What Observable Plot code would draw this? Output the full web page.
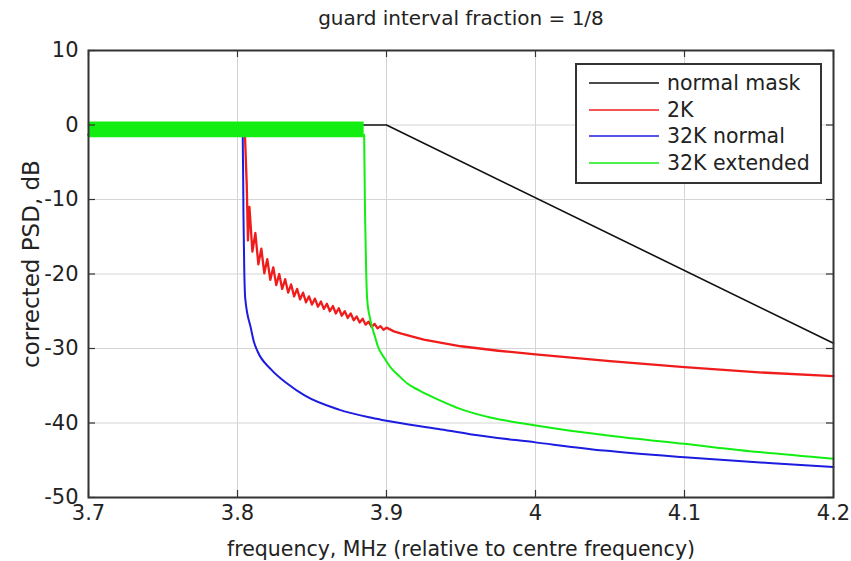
<!DOCTYPE html>
<html><head><meta charset="utf-8">
<script src="https://cdn.jsdelivr.net/npm/d3@7"></script>
<script src="https://cdn.jsdelivr.net/npm/@observablehq/plot@0.6"></script>
<style>
body{margin:0;background:#fff;}
#wrap{position:relative;width:851px;height:561px;font-family:"DejaVu Sans",sans-serif;}
#legend{position:absolute;left:575px;top:63px;width:243px;height:117px;border:2px solid #333;background:#fff;}
.row{position:absolute;left:0;height:26px;display:flex;align-items:center;font-size:20.5px;color:#222;white-space:nowrap;}
.row svg{margin-left:12px;margin-right:8px;}
</style>
</head><body><div id="wrap"></div>
<script>
// ---- data ----
const titleText = "guard interval fraction = 1/8";
const xLabel = "frequency, MHz (relative to centre frequency)";
const yLabel = "corrected PSD, dB";
const xTicks = [3.7, 3.8, 3.9, 4.0, 4.1, 4.2];
const xTickLabels = ["3.7", "3.8", "3.9", "4", "4.1", "4.2"];
const yTicks = [-50, -40, -30, -20, -10, 0, 10];
const yTickLabels = ["-50", "-40", "-30", "-20", "-10", "0", "10"];
const seriesNames = ["normal mask", "2K", "32K normal", "32K extended"];
const seriesColors = ["#111111", "#f01c1c", "#1c1ce0", "#12ee12"];

// normal mask
const maskFreq = [3.7, 3.9, 4.2];
const maskPSD  = [0, 0, -29.3];

// 2K (in-band ripple hidden under green band, then steep edge with decaying sidelobe ripple)
const k2Freq = [3.7, 3.805, 3.8062, 3.807,
  3.808, 3.810, 3.812, 3.814, 3.816, 3.818, 3.820, 3.822, 3.824, 3.826, 3.828, 3.830,
  3.832, 3.834, 3.836, 3.838, 3.840, 3.842, 3.844, 3.846, 3.848, 3.850, 3.852, 3.854,
  3.856, 3.858, 3.860, 3.862, 3.864, 3.866, 3.868, 3.870, 3.872, 3.874, 3.876, 3.878,
  3.880, 3.882, 3.884, 3.886, 3.888, 3.890, 3.892, 3.894, 3.896, 3.898, 3.900,
  3.905, 3.910, 3.925, 3.950, 3.975, 4.0, 4.05, 4.1, 4.15, 4.2];
const k2PSD = [-1.3, -1.3, -8, -15.5,
  -11.0, -17.0, -14.5, -18.7, -16.6, -19.9, -18.0, -20.8, -19.1, -21.5, -20.0, -22.0,
  -20.7, -22.5, -21.4, -23.0, -22.0, -23.4, -22.5, -23.8, -23.0, -24.1, -23.3, -24.4,
  -23.7, -24.7, -24.0, -25.0, -24.3, -25.3, -24.6, -25.6, -25.0, -25.9, -25.3, -26.2,
  -25.7, -26.5, -26.0, -26.8, -26.4, -27.1, -26.7, -27.3, -27.0, -27.5, -27.2,
  -27.7, -28.0, -28.8, -29.7, -30.3, -30.8, -31.7, -32.5, -33.2, -33.7];

// 32K normal
const k32nFreq = [3.7, 3.8035, 3.804, 3.8045, 3.8052, 3.809, 3.811, 3.8135, 3.8225, 3.834, 3.845,
  3.868, 3.890, 3.900, 3.935, 3.956, 4.0, 4.046, 4.1, 4.159, 4.2];
const k32nPSD = [-1.3, -1.3, -12, -19, -23.3, -27.3, -29.1, -30.4, -32.8, -34.8, -36.3,
  -38.2, -39.3, -39.7, -40.8, -41.5, -42.6, -43.7, -44.6, -45.4, -45.9];

// 32K extended: dense in-band ripple (drawn as its envelope band) and roll-off
const k32eBandFreq = [3.7, 3.885];
const k32eBandTop = [0.4, 0.4];
const k32eBandBottom = [-1.7, -1.7];
const k32eFreq = [3.885, 3.8856, 3.8864, 3.8870, 3.8892, 3.8924, 3.894, 3.899, 3.903, 3.908, 3.914,
  3.9216, 3.935, 3.948, 3.9705, 3.993, 4.0155, 4.05, 4.1, 4.15, 4.2];
const k32ePSD = [-1.3, -12, -20, -23.3, -26.2, -28.5, -29.6, -31.4, -32.6, -33.6, -34.7,
  -35.6, -36.9, -38.0, -39.3, -40.1, -40.8, -41.7, -42.8, -43.9, -44.8];

// ---- build tables ----
const toRows = (fx, fy) => fx.map((f, i) => ({f, v: fy[i]}));
const mask = toRows(maskFreq, maskPSD);
const k2 = toRows(k2Freq, k2PSD);
const k32n = toRows(k32nFreq, k32nPSD);
const k32e = toRows(k32eFreq, k32ePSD);
const band = k32eBandFreq.map((f, i) => ({f, top: k32eBandTop[i], bottom: k32eBandBottom[i]}));

const W = 851, H = 561, mL = 88, mR = 18, mT = 50, mB = 64;
const innerW = W - mL - mR, innerH = H - mT - mB;
const tickLen = 7;
const axisColor = "#333";

const chart = Plot.plot({
  width: W, height: H,
  marginLeft: mL, marginRight: mR, marginTop: mT, marginBottom: mB,
  style: {fontFamily: "DejaVu Sans, sans-serif", fontSize: "21px", color: "#222", background: "#fff", overflow: "visible"},
  x: {domain: [3.7, 4.2]},
  y: {domain: [-50, 10]},
  marks: [
    Plot.gridX(xTicks, {stroke: "#d4d4d4", strokeOpacity: 1, strokeWidth: 1}),
    Plot.gridY(yTicks, {stroke: "#d4d4d4", strokeOpacity: 1, strokeWidth: 1}),
    Plot.line(mask, {x: "f", y: "v", stroke: seriesColors[0], strokeWidth: 1.6}),
    Plot.line(k2, {x: "f", y: "v", stroke: seriesColors[1], strokeWidth: 2.3}),
    Plot.line(k32n, {x: "f", y: "v", stroke: seriesColors[2], strokeWidth: 2, curve: "monotone-x"}),
    Plot.areaY(band, {x: "f", y1: "bottom", y2: "top", fill: seriesColors[3]}),
    Plot.line(k32e, {x: "f", y: "v", stroke: seriesColors[3], strokeWidth: 2, curve: "monotone-x"}),
    // inward tick marks on all four sides
    Plot.ruleX(xTicks, {insetTop: innerH - tickLen, stroke: axisColor, strokeWidth: 1.2}),
    Plot.ruleX(xTicks, {insetBottom: innerH - tickLen, stroke: axisColor, strokeWidth: 1.2}),
    Plot.ruleY(yTicks, {insetRight: innerW - tickLen, stroke: axisColor, strokeWidth: 1.2}),
    Plot.ruleY(yTicks, {insetLeft: innerW - tickLen, stroke: axisColor, strokeWidth: 1.2}),
    Plot.frame({stroke: axisColor, strokeWidth: 2}),
    Plot.axisX(xTicks, {tickSize: 0, tickPadding: 8, tickFormat: d => xTickLabels[xTicks.indexOf(d)], label: null, fill: "#222"}),
    Plot.axisY(yTicks, {tickSize: 0, tickPadding: 10, tickFormat: d => yTickLabels[yTicks.indexOf(d)], label: null, fill: "#222"}),
    Plot.text([titleText], {frameAnchor: "top", dy: -40, fontSize: 20, fill: "#222"}),
    Plot.text([xLabel], {frameAnchor: "bottom", dy: 58, fontSize: 20.5, fill: "#222"}),
    Plot.text([yLabel], {frameAnchor: "left", dx: -57, dy: -10, rotate: -90, textAnchor: "middle", lineAnchor: "middle", fontSize: 23, fill: "#222"})
  ]
});
const wrap = document.getElementById("wrap");
wrap.appendChild(chart);

// legend overlay
const legend = document.createElement("div");
legend.id = "legend";
seriesNames.forEach((name, i) => {
  const row = document.createElement("div");
  row.className = "row";
  row.style.top = (5 + i * 26.7) + "px";
  row.innerHTML = `<svg width="70" height="4"><line x1="0" y1="2" x2="70" y2="2" stroke="${seriesColors[i]}" stroke-width="1.6"/></svg><span>${name}</span>`;
  legend.appendChild(row);
});
wrap.appendChild(legend);
</script>
</body></html>
